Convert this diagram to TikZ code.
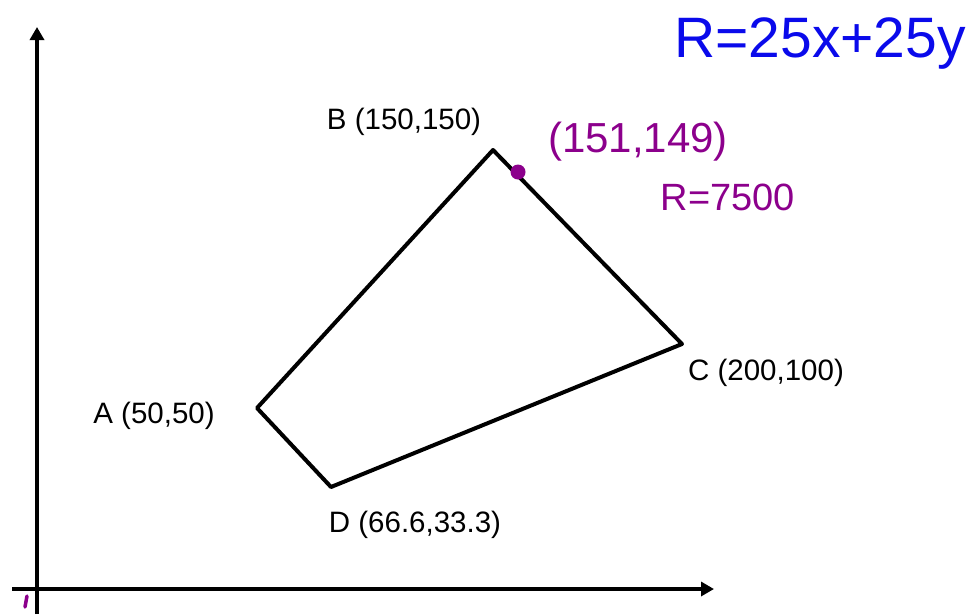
\documentclass[tikz,border=0pt]{standalone}
\usepackage{fontspec}
\setmainfont{Liberation Sans}
\usetikzlibrary{arrows.meta}
\definecolor{penblue}{RGB}{10,10,235}
\definecolor{penpurple}{RGB}{140,0,140}
\tikzset{
  axis/.style={line width=4pt,-{Triangle[length=13pt,width=14pt]}},
  edge/.style={line width=4pt,line join=round},
  ptlabel/.style={font=\fontsize{29.5}{32}\selectfont,inner sep=0pt},
  hand/.style={inner sep=0pt},
}
\begin{document}
\begin{tikzpicture}[x=1pt,y=-1pt]
\useasboundingbox (0,0) rectangle (973,614);
% axes
\coordinate (ybot) at (37,614);
\coordinate (ytop) at (37,27);
\coordinate (xl) at (12,589);
\coordinate (xr) at (714,589);
\draw[axis] (ybot) -- (ytop);
\draw[axis] (xl) -- (xr);
% stray mark
\coordinate (m1) at (27,596);
\coordinate (m2) at (25,607);
\draw[penpurple,line width=3.5pt,line cap=round] (m1) -- (m2);
% polygon
\coordinate (A) at (257,408);
\coordinate (B) at (493,150);
\coordinate (C) at (682,344);
\coordinate (D) at (331,487);
\draw[edge] (A) -- (B) -- (C) -- (D) -- cycle;
% labels
\node[ptlabel] (lB) at (404,122) {B (150,150)};
\node[ptlabel] (lC) at (766,373) {C (200,100)};
\node[ptlabel] (lA) at (154,416) {A (50,50)};
\node[ptlabel] (lD) at (415,525) {D (66.6,33.3)};
% handwritten notes
\node[hand,penblue,font=\fontsize{57}{60}\selectfont] (R) at (820,44) {R=25x+25y};
\fill[penpurple] (518,172) circle (7.5);
\coordinate (P) at (518,172);
\node[hand,penpurple,font=\fontsize{42}{46}\selectfont] (pt) at (638,142) {(151,149)};
\node[hand,penpurple,font=\fontsize{38}{42}\selectfont] (Rv) at (728,197) {R=7500};
\end{tikzpicture}
\end{document}
